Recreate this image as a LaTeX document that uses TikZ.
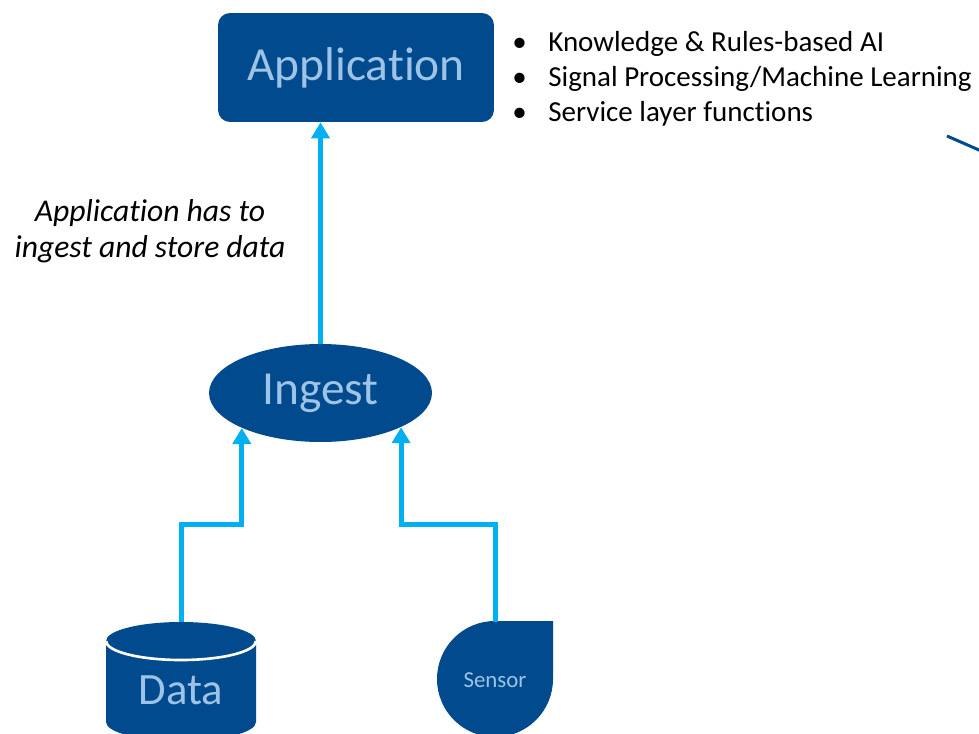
\documentclass[tikz,border=0pt]{standalone}
\usepackage{fontspec}
\setmainfont{Carlito}[Ligatures=NoCommon]
\usepackage{xcolor}
\usetikzlibrary{arrows.meta}
\usetikzlibrary{shapes.geometric}
\usetikzlibrary{positioning}
\definecolor{boxblue}{HTML}{004A8D}
\definecolor{labelblue}{HTML}{9DC3E6}
\definecolor{flowblue}{HTML}{00B0F0}
\begin{document}
\begin{tikzpicture}[x=0.02cm, y=0.02cm,
	appbox/.style={rectangle, rounded corners=0.24cm, fill=boxblue, text=labelblue, minimum width=5.52cm, minimum height=2.18cm, font=\fontsize{27}{30}\selectfont},
	ingestbox/.style={ellipse, fill=boxblue, text=labelblue, inner sep=0pt, minimum width=4.46cm, minimum height=1.96cm, font=\fontsize{27}{30}\selectfont},
	flow/.style={line width=0.1cm, flowblue, -{Triangle[length=0.32cm, width=0.36cm]}},
	bullettext/.style={anchor=base west, inner sep=0pt, font=\fontsize{16.5}{18}\selectfont},
	note/.style={anchor=base, inner sep=0pt, font=\fontsize{18}{20}\selectfont\itshape}]
	\useasboundingbox (0,0) rectangle (979,-733);
	% draw nodes
	\node[appbox] (app) at (356,-67.5) {Application};
	\node[ingestbox] (ingest) at (320.5,-393) {Ingest};
	% draw data cylinder
	\fill[boxblue] (106,-641) -- (106,-722) arc[start angle=180, end angle=360, x radius=75, y radius=19] -- (256,-641) arc[start angle=0, end angle=180, x radius=75, y radius=19] -- cycle;
	\draw[white, line width=1.5pt] (106,-641) arc[start angle=180, end angle=360, x radius=75, y radius=19];
	\coordinate (data top) at (181,-622);
	\node[text=labelblue, font=\fontsize{25.5}{30}\selectfont] (data) at (181,-690) {Data};
	% draw sensor
	\fill[boxblue] (495,-621) -- (553,-621) -- (553,-679) arc[start angle=0, end angle=-270, radius=58] -- cycle;
	\coordinate (sensor top) at (495,-622);
	\node[text=labelblue, font=\fontsize{13}{15}\selectfont] (sensor) at (495,-680) {Sensor};
	% add arrows
	\draw[flow] (ingest.north) -- (ingest.north |- app.south);
	\draw[flow] (data top) -- ++(0,98) -| (ingest.204);
	\draw[flow] (sensor top) -- ++(0,98) -| (ingest.-23);
	% bullet list
	\node[bullettext] (dot1) at (512,-52) {•};
	\node[bullettext] (dot2) at (512,-87) {•};
	\node[bullettext] (dot3) at (512,-122) {•};
	\node[bullettext] (item1) at (548,-52) {Knowledge \& Rules-based AI};
	\node[bullettext] (item2) at (548,-87) {Signal Processing/Machine Learning};
	\node[bullettext] (item3) at (548,-122) {Service layer functions};
	% italic note
	\node[note] (note1) at (150,-221) {Application has to};
	\node[note] (note2) at (150,-257) {ingest and store data};
	% line at right edge
	\draw[boxblue, line width=0.06cm] (947,-136) -- (995,-157);
\end{tikzpicture}
\end{document}
